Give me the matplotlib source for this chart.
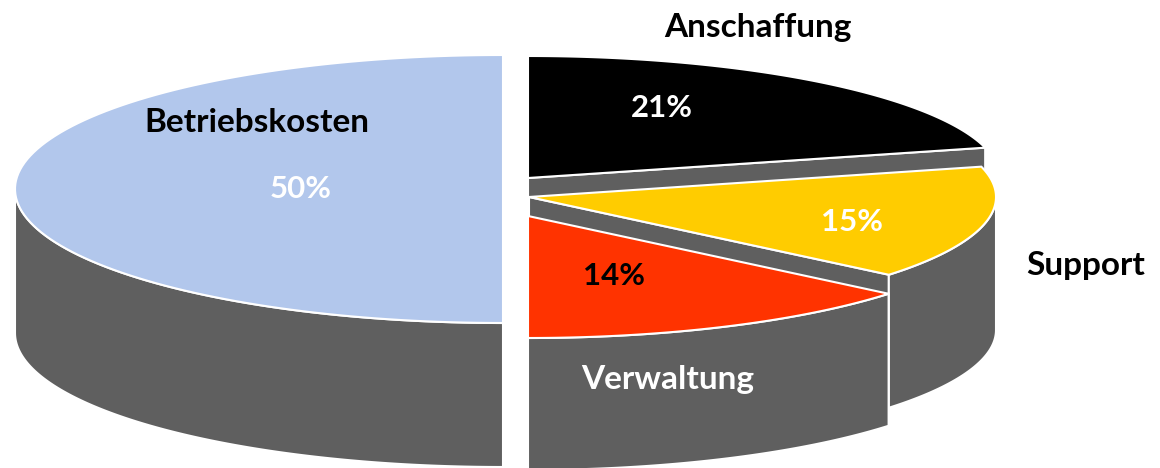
import numpy as np
import matplotlib
matplotlib.use("Agg")
import matplotlib.pyplot as plt
from matplotlib.patches import Polygon

# data, clockwise from 12 o'clock
names = ['Anschaffung', 'Support', 'Verwaltung', 'Betriebskosten']
shares = [21, 15, 14, 50]
pct_labels = ['21%', '15%', '14%', '50%']

colors = ['#000000', '#FFCC00', '#FF3300', '#B2C7EC']
side_color = '#5F5F5F'

# each slice is pulled out on its own: centre x, centre y, radius x, radius y, depth
cx = [528, 529, 528, 503]
cy = [178, 197, 216, 189]
rx = [472, 467, 468, 488]
ry = [122, 122, 122, 134]
depth = [134, 133, 132, 144]

plt.rcParams['font.family'] = ['Lato', 'DejaVu Sans']

fig = plt.figure(figsize=(11.6, 4.68), dpi=100)
ax = fig.add_axes([0, 0, 1, 1])
ax.set_xlim(0, 1160)
ax.set_ylim(468, 0)
ax.axis('off')

edges = np.cumsum([0] + shares) / sum(shares) * 2 * np.pi


def arc(i, t0, t1, dy=0):
    t = np.linspace(t0, t1, 120)
    return np.column_stack([cx[i] + rx[i] * np.sin(t), cy[i] - ry[i] * np.cos(t) + dy])


def add_poly(pts, color, z):
    ax.add_patch(Polygon(pts, closed=True, facecolor=color, edgecolor='white',
                         linewidth=1.5, joinstyle='miter', zorder=z))


for i in range(len(shares)):
    t0, t1 = edges[i], edges[i + 1]
    centre = np.array([[cx[i], cy[i]]])
    z = i * 3 + 1

    # cut face running from the centre to the start of the next slice
    if i < 3:
        end = arc(i, t1, t1, 0)[:1]
        face = np.vstack([centre, end, end + [0, depth[i]], centre + [0, depth[i]]])
        add_poly(face, side_color, z)

    # outer wall, only the part that faces the viewer
    a0, a1 = max(t0, np.pi / 2), min(t1, 3 * np.pi / 2)
    if a1 > a0:
        wall = np.vstack([arc(i, a0, a1), arc(i, a1, a0, depth[i])])
        add_poly(wall, side_color, z + 1)

    add_poly(np.vstack([centre, arc(i, t0, t1)]), colors[i], z + 2)

fs = 24
fp = 22.5
ax.text(758, 27, names[0], color='black', fontsize=fs, fontweight='bold', ha='center', va='center', zorder=30)
ax.text(1086, 266, names[1], color='black', fontsize=fs, fontweight='bold', ha='center', va='center', zorder=30)
ax.text(668, 380, names[2], color='white', fontsize=fs, fontweight='bold', ha='center', va='center', zorder=30)
ax.text(257, 122, names[3], color='black', fontsize=fs, fontweight='bold', ha='center', va='center', zorder=30)

ax.text(662, 108, pct_labels[0], color='white', fontsize=fp, fontweight='bold', ha='center', va='center', zorder=30)
ax.text(852, 222, pct_labels[1], color='white', fontsize=fp, fontweight='bold', ha='center', va='center', zorder=30)
ax.text(614, 276, pct_labels[2], color='black', fontsize=fp, fontweight='bold', ha='center', va='center', zorder=30)
ax.text(301, 189, pct_labels[3], color='white', fontsize=fp, fontweight='bold', ha='center', va='center', zorder=30)

fig.savefig('out.png', dpi=100)
